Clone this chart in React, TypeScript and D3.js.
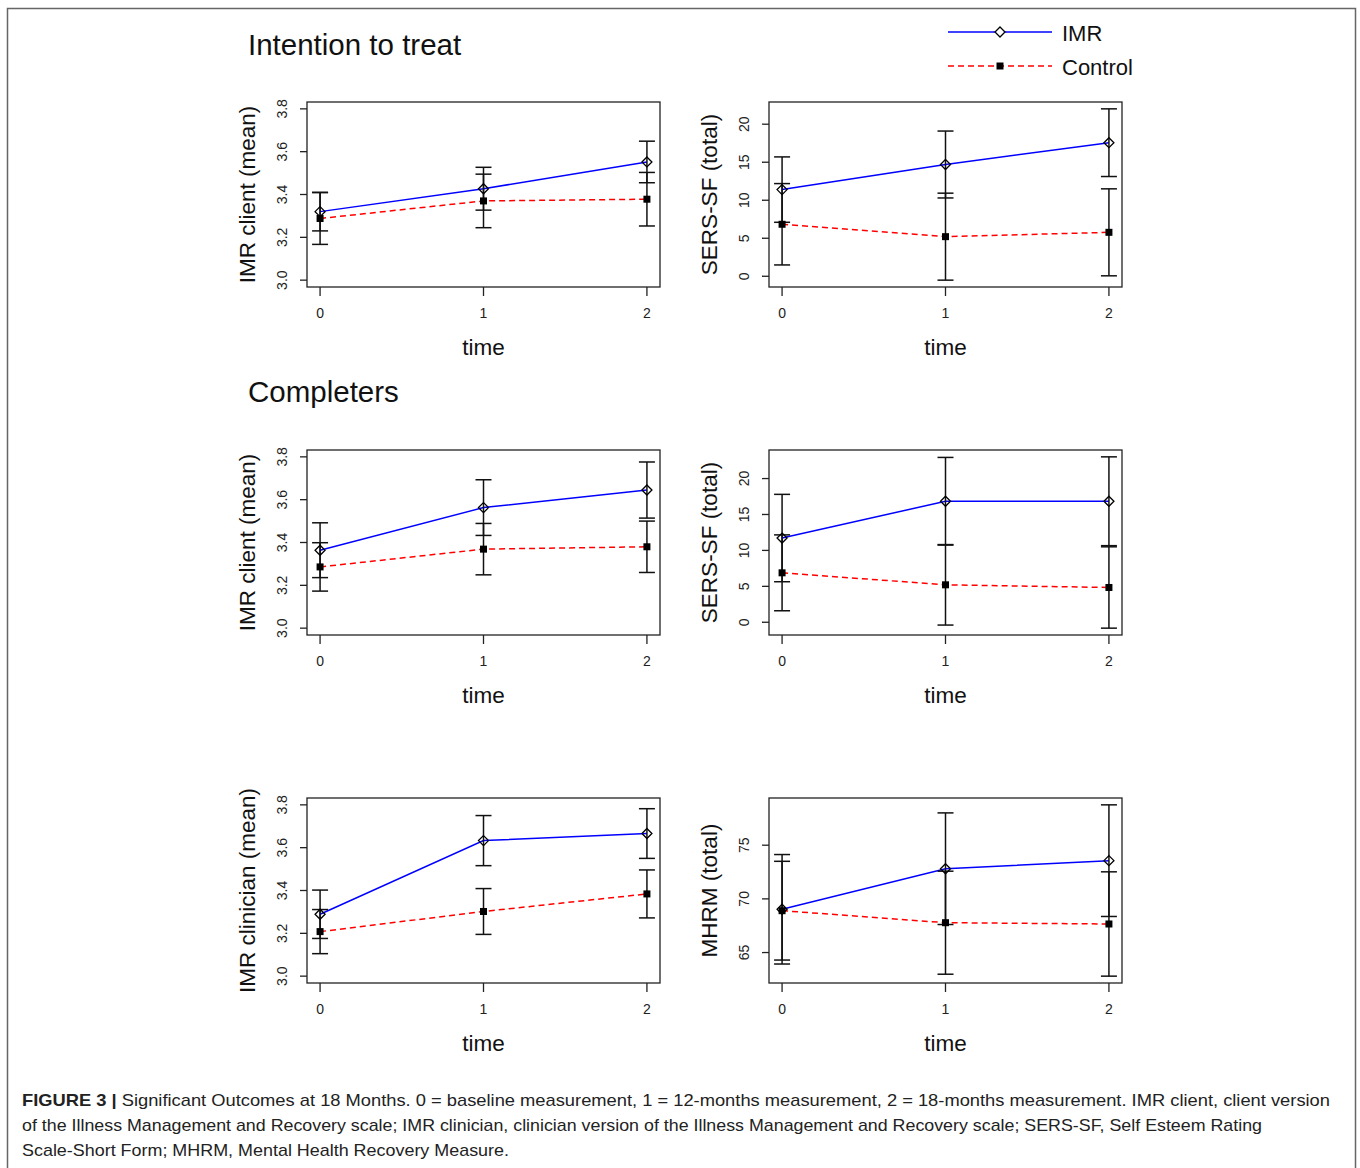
import React from 'react';
import * as d3 from 'd3';

// time points on the x axis
const timePoints = [0, 1, 2];

// Intention to treat: IMR client (mean)
const ittClientImr = [3.32, 3.427, 3.552];
const ittClientImrErr = [0.09, 0.1, 0.097];
const ittClientCtl = [3.288, 3.37, 3.378];
const ittClientCtlErr = [0.121, 0.125, 0.125];

// Intention to treat: SERS-SF (total)
const ittSersImr = [11.4, 14.7, 17.57];
const ittSersImrErr = [4.3, 4.4, 4.45];
const ittSersCtl = [6.84, 5.21, 5.78];
const ittSersCtlErr = [5.35, 5.72, 5.72];

// Completers: IMR client (mean)
const compClientImr = [3.364, 3.563, 3.645];
const compClientImrErr = [0.128, 0.13, 0.131];
const compClientCtl = [3.286, 3.369, 3.38];
const compClientCtlErr = [0.113, 0.12, 0.12];

// Completers: SERS-SF (total)
const compSersImr = [11.72, 16.84, 16.84];
const compSersImrErr = [6.08, 6.1, 6.18];
const compSersCtl = [6.88, 5.21, 4.84];
const compSersCtlErr = [5.28, 5.6, 5.66];

// Completers: IMR clinician (mean)
const compClinImr = [3.289, 3.633, 3.666];
const compClinImrErr = [0.113, 0.117, 0.116];
const compClinCtl = [3.208, 3.302, 3.384];
const compClinCtlErr = [0.103, 0.107, 0.112];

// Completers: MHRM (total)
const compMhrmImr = [69.03, 72.81, 73.56];
const compMhrmImrErr = [5.1, 5.2, 5.2];
const compMhrmCtl = [68.9, 67.78, 67.66];
const compMhrmCtlErr = [4.6, 4.8, 4.86];

const imrTicks = [3.0, 3.2, 3.4, 3.6, 3.8];
const sersTicks = [0, 5, 10, 15, 20];
const mhrmTicks = [65, 70, 75];

const legendLabels = ['IMR', 'Control'];

const captionLines = [
  'Significant Outcomes at 18 Months. 0 = baseline measurement, 1 = 12-months measurement, 2 = 18-months measurement. IMR client, client version',
  'of the Illness Management and Recovery scale; IMR clinician, clinician version of the Illness Management and Recovery scale; SERS-SF, Self Esteem Rating',
  'Scale-Short Form; MHRM, Mental Health Recovery Measure.',
];

const FONT = 'Liberation Sans, Arial, sans-serif';
const W = 353;
const H = 185;

// R style 4% axis extension
const extend = ([a, b]: number[]) => {
  const pad = (b - a) * 0.04;
  return [a - pad, b + pad];
};

const Panel = ({ x0, y0, label, imr, imrErr, ctl, ctlErr, ticks, fixed, fmt }: any) => {
  const xScale = d3.scaleLinear().domain(extend([0, 2])).range([x0, x0 + W]);
  let dom = fixed;
  if (!dom) {
    const all = imr.map((v, i) => [v - imrErr[i], v + imrErr[i]])
      .concat(ctl.map((v, i) => [v - ctlErr[i], v + ctlErr[i]]))
      .flat();
    dom = d3.extent(all);
  }
  const yScale = d3.scaleLinear().domain(extend(dom)).range([y0 + H, y0]);
  const line = d3.line<number>().x((d, i) => xScale(timePoints[i])).y((d) => yScale(d));

  const bars = (vals, errs) =>
    vals.map((v, i) => {
      const cx = xScale(timePoints[i]);
      const t = yScale(v + errs[i]);
      const b = yScale(v - errs[i]);
      return (
        <g key={i} stroke="#111" strokeWidth={1.5}>
          <line x1={cx} x2={cx} y1={t} y2={b} />
          <line x1={cx - 8} x2={cx + 8} y1={t} y2={t} />
          <line x1={cx - 8} x2={cx + 8} y1={b} y2={b} />
        </g>
      );
    });

  return (
    <g fontFamily={FONT}>
      <path d={line(imr)} fill="none" stroke="#0000ff" strokeWidth={1.5} />
      <path d={line(ctl)} fill="none" stroke="#ff0000" strokeWidth={1.5} strokeDasharray="6,4" />
      {bars(imr, imrErr)}
      {bars(ctl, ctlErr)}
      {ctl.map((v, i) => (
        <rect key={'c' + i} x={xScale(timePoints[i]) - 3.5} y={yScale(v) - 3.5} width={7} height={7} fill="#000" />
      ))}
      {imr.map((v, i) => {
        const cx = xScale(timePoints[i]);
        const cy = yScale(v);
        return (
          <path key={'m' + i} d={`M${cx},${cy - 5}L${cx + 5},${cy}L${cx},${cy + 5}L${cx - 5},${cy}Z`}
            fill="none" stroke="#000" strokeWidth={1.3} />
        );
      })}
      <rect x={x0} y={y0} width={W} height={H} fill="none" stroke="#222" strokeWidth={1.3} />
      {/* x axis */}
      {timePoints.map((t) => (
        <g key={'xt' + t}>
          <line x1={xScale(t)} x2={xScale(t)} y1={y0 + H} y2={y0 + H + 9} stroke="#222" strokeWidth={1.3} />
          <text x={xScale(t)} y={y0 + H + 31} textAnchor="middle" fontSize={14} fill="#222">{t}</text>
        </g>
      ))}
      <text x={x0 + W / 2} y={y0 + H + 68} textAnchor="middle" fontSize={22.5} fill="#111">time</text>
      {/* y axis */}
      {ticks.map((t) => (
        <g key={'yt' + t}>
          <line x1={x0 - 7} x2={x0} y1={yScale(t)} y2={yScale(t)} stroke="#222" strokeWidth={1.3} />
          <text transform={`translate(${x0 - 20},${yScale(t)}) rotate(-90)`} textAnchor="middle" fontSize={14} fill="#222">
            {fmt(t)}
          </text>
        </g>
      ))}
      <text transform={`translate(${x0 - 52},${y0 + H / 2}) rotate(-90)`} textAnchor="middle" fontSize={22.5} fill="#111">
        {label}
      </text>
    </g>
  );
};

const App = () => {
  const cols = [307, 769];
  const rows = [102, 450, 798];
  const f1 = d3.format('.1f');
  const f0 = d3.format('d');
  return (
    <svg width={1360} height={1168} style={{ position: 'absolute', left: 0, top: 0, background: '#fff' }}>
      <rect x={7.5} y={8.5} width={1348} height={1200} fill="#fff" stroke="#666" strokeWidth={1.5} />

      <text x={248} y={55} fontFamily={FONT} fontSize={29.5} fill="#111">Intention to treat</text>
      <text x={248} y={402} fontFamily={FONT} fontSize={29.5} fill="#111">Completers</text>

      {/* legend */}
      <g fontFamily={FONT} fontSize={22} fill="#111">
        <line x1={948} x2={1052} y1={32} y2={32} stroke="#0000ff" strokeWidth={1.5} />
        <path d="M1000,27L1005,32L1000,37L995,32Z" fill="#fff" stroke="#000" strokeWidth={1.3} />
        <text x={1062} y={41}>{legendLabels[0]}</text>
        <line x1={948} x2={1052} y1={66} y2={66} stroke="#ff0000" strokeWidth={1.5} strokeDasharray="6,4" />
        <rect x={996.5} y={62.5} width={7} height={7} fill="#000" />
        <text x={1062} y={75}>{legendLabels[1]}</text>
      </g>

      <Panel x0={cols[0]} y0={rows[0]} label="IMR client (mean)" imr={ittClientImr} imrErr={ittClientImrErr}
        ctl={ittClientCtl} ctlErr={ittClientCtlErr} ticks={imrTicks} fixed={[3, 3.8]} fmt={f1} />
      <Panel x0={cols[1]} y0={rows[0]} label="SERS-SF (total)" imr={ittSersImr} imrErr={ittSersImrErr}
        ctl={ittSersCtl} ctlErr={ittSersCtlErr} ticks={sersTicks} fmt={f0} />
      <Panel x0={cols[0]} y0={rows[1]} label="IMR client (mean)" imr={compClientImr} imrErr={compClientImrErr}
        ctl={compClientCtl} ctlErr={compClientCtlErr} ticks={imrTicks} fixed={[3, 3.8]} fmt={f1} />
      <Panel x0={cols[1]} y0={rows[1]} label="SERS-SF (total)" imr={compSersImr} imrErr={compSersImrErr}
        ctl={compSersCtl} ctlErr={compSersCtlErr} ticks={sersTicks} fmt={f0} />
      <Panel x0={cols[0]} y0={rows[2]} label="IMR clinician (mean)" imr={compClinImr} imrErr={compClinImrErr}
        ctl={compClinCtl} ctlErr={compClinCtlErr} ticks={imrTicks} fixed={[3, 3.8]} fmt={f1} />
      <Panel x0={cols[1]} y0={rows[2]} label="MHRM (total)" imr={compMhrmImr} imrErr={compMhrmImrErr}
        ctl={compMhrmCtl} ctlErr={compMhrmCtlErr} ticks={mhrmTicks} fmt={f0} />

      {/* caption */}
      <g fontFamily="Liberation Sans Narrow, Arial Narrow, sans-serif" fontSize={17} fill="#222">
        <text x={22} y={1106} textLength={1308} lengthAdjust="spacingAndGlyphs">
          <tspan fontWeight="bold">FIGURE 3 | </tspan>
          {captionLines[0]}
        </text>
        <text x={22} y={1131} textLength={1240} lengthAdjust="spacingAndGlyphs">{captionLines[1]}</text>
        <text x={22} y={1156} textLength={487} lengthAdjust="spacingAndGlyphs">{captionLines[2]}</text>
      </g>
    </svg>
  );
};

export default App;
